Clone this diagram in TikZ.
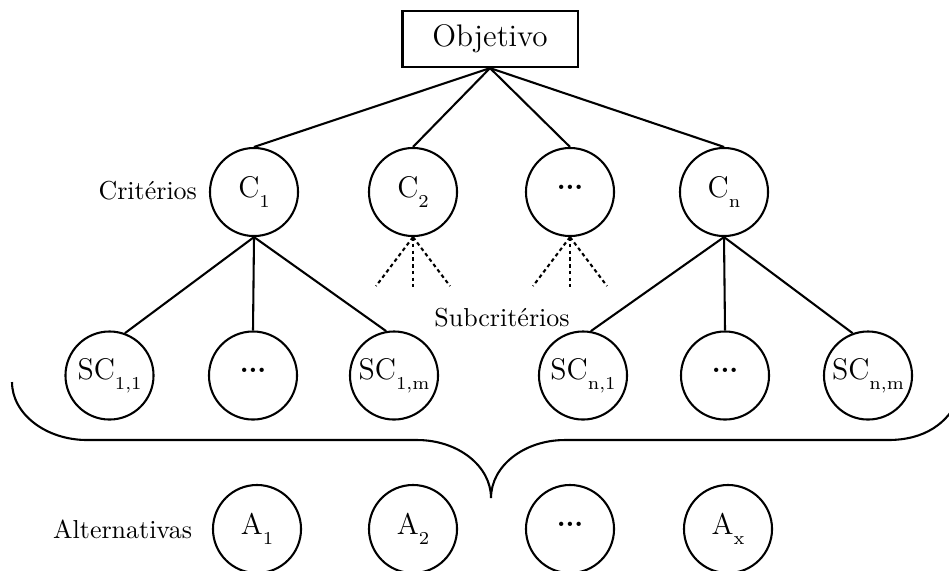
\documentclass[tikz,border=0pt]{standalone}
\usetikzlibrary{calc}
\newcommand\lsub[1]{\raisebox{-0.33em}{\fontsize{7}{8}\selectfont #1}}
\newcommand\mydots{\raisebox{0.32em}{\bfseries.\kern-0.2pt.\kern-0.2pt.}}
\begin{document}
\begin{tikzpicture}[x=0.385pt,y=-0.385pt, line width=0.8pt,
  circ/.style={draw, circle, minimum size=33.9pt, inner sep=0pt, font=\fontsize{11.5}{13}\selectfont},
  lbl/.style={font=\fontsize{10}{12}\selectfont, inner sep=0pt},
  fan/.style={dash pattern=on 1.4pt off 1.2pt}]
\useasboundingbox (0,0) rectangle (949,570);

% top
\node[draw, minimum width=67.4pt, minimum height=21.6pt, inner sep=0pt, font=\large] (obj) at (490,39) {Objetivo};

% criteria
\node[circ] (c1) at (254,192) {C\lsub{1}};
\node[circ] (c2) at (413,192) {C\lsub{2}};
\node[circ] (cd) at (570,192) {\mydots};
\node[circ] (cn) at (724,192) {C\lsub{n}};

% sub-criteria
\node[circ] (sc11) at (109.5,375.5) {SC\lsub{1,1}};
\node[circ] (sc1d) at (253,375.5) {\mydots};
\node[circ] (sc1m) at (394,375.5) {SC\lsub{1,m}};
\node[circ] (scn1) at (583,375.5) {SC\lsub{n,1}};
\node[circ] (scnd) at (725,375.5) {\mydots};
\node[circ] (scnm) at (868,375.5) {SC\lsub{n,m}};

% alternatives
\node[circ] (a1) at (257,529) {A\lsub{1}};
\node[circ] (a2) at (413,529) {A\lsub{2}};
\node[circ] (ad) at (570,529) {\mydots};
\node[circ] (ax) at (728,529) {A\lsub{x}};

% labels
\node[lbl, anchor=east] (lcrit) at (198,191) {Critérios};
\node[lbl] (lsubc) at (502,318) {Subcritérios};
\node[lbl, anchor=east] (lalt) at (193,529) {Alternativas};

% connectors
\foreach \c in {c1,c2,cd,cn} \draw (obj.south) -- (\c.north);
\draw (c1.south) -- (sc11.70);
\draw (c1.south) -- (sc1d.north);
\draw (c1.south) -- (sc1m.100);
\draw (cn.south) -- (scn1.80);
\draw (cn.south) -- (scnd.north);
\draw (cn.south) -- (scnm.110);

% dashed fans
\coordinate (f2a) at ($(c2.south)+(-37,49)$);
\coordinate (f2b) at ($(c2.south)+(0,50)$);
\coordinate (f2c) at ($(c2.south)+(37,49)$);
\coordinate (fda) at ($(cd.south)+(-37,49)$);
\coordinate (fdb) at ($(cd.south)+(0,50)$);
\coordinate (fdc) at ($(cd.south)+(37,49)$);
\foreach \e in {f2a,f2b,f2c} \draw[fan] (c2.south) -- (\e);
\foreach \e in {fda,fdb,fdc} \draw[fan] (cd.south) -- (\e);

% brace
\draw (12,382) .. controls (12,414) and (46,440) .. (87,440) -- (417,440)
  .. controls (458,440) and (491,466) .. (491,498)
  .. controls (491,466) and (524,440) .. (565,440) -- (888,440)
  .. controls (924,440) and (948,424) .. (960,396);
\end{tikzpicture}
\end{document}
